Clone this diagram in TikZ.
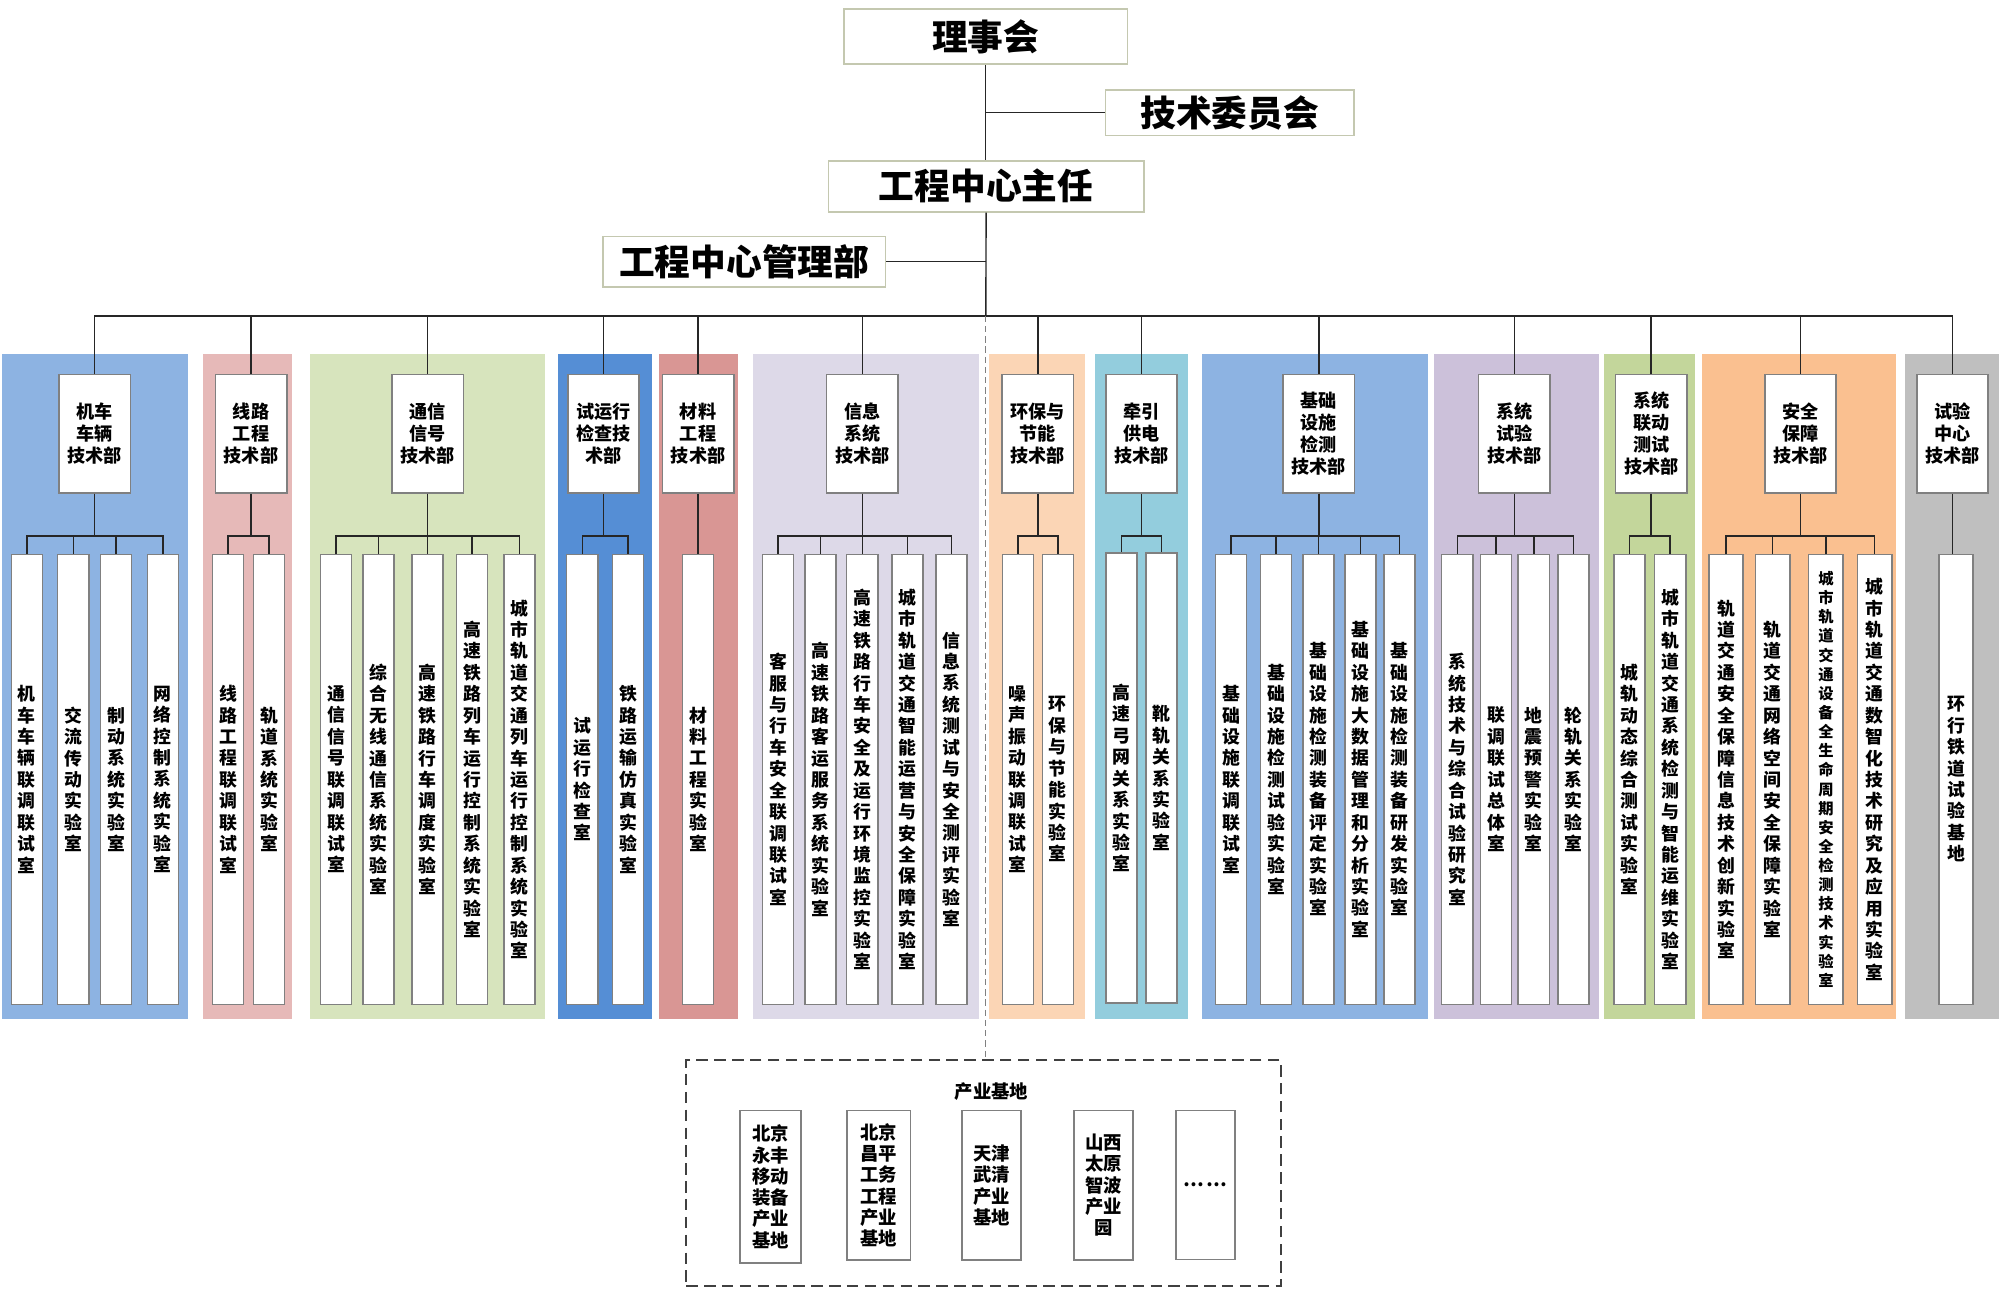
\documentclass[tikz,border=0pt]{standalone}
\usepackage{fontspec}
\setmainfont{Noto Sans CJK SC}
\usetikzlibrary{calc}

\definecolor{pcA}{RGB}{141,179,226}
\definecolor{pcB}{RGB}{230,185,184}
\definecolor{pcC}{RGB}{215,228,189}
\definecolor{pcD}{RGB}{85,142,213}
\definecolor{pcE}{RGB}{217,150,148}
\definecolor{pcF}{RGB}{221,217,232}
\definecolor{pcG}{RGB}{251,213,181}
\definecolor{pcH}{RGB}{147,205,221}
\definecolor{pcI}{RGB}{204,193,218}
\definecolor{pcJ}{RGB}{195,214,155}
\definecolor{pcK}{RGB}{250,192,144}
\definecolor{pcL}{RGB}{191,191,191}
\definecolor{boxline}{RGB}{128,128,128}
\definecolor{topline}{RGB}{196,200,176}
\definecolor{wirecol}{RGB}{38,38,38}

\newcommand\chiefont{\fontsize{14}{16}\selectfont\bfseries}
\newcommand\deptfont{\fontsize{7.1}{8.6}\selectfont\bfseries}
\newcommand\labfont{\fontsize{7}{8.4}\selectfont\bfseries}
\newcommand\smalllabfont{\fontsize{6}{7.5}\selectfont\bfseries}
\newcommand\parkfont{\fontsize{7.2}{8.35}\selectfont\bfseries}

% one character per line
\def\stackstop{\relax stackstop}
\newcommand\stackchars[1]{\edef\stacktmp{#1}\expandafter\stackfirst\stacktmp\stackstop}
\def\stackfirst#1{#1\stacknext}
\def\stacknext#1{\ifx\stackstop#1\else\\#1\expandafter\stacknext\fi}

\begin{document}
\begin{tikzpicture}[x=0.5pt,y=-0.5pt,
    chief/.style={draw=topline,fill=white,line width=0.7pt,font=\chiefont,inner sep=0pt},
    dept/.style={draw=boxline,fill=white,line width=0.6pt,font=\deptfont,align=center,
        minimum width=28pt,minimum height=46.5pt,inner sep=0pt},
    lab/.style={draw=boxline,fill=white,line width=0.6pt,font=\labfont,align=center,
        minimum width=12.2pt,minimum height=176.4pt,inner sep=0pt},
    widelab/.style={lab,minimum width=13.5pt},
    smalllab/.style={widelab,font=\smalllabfont},
    park/.style={draw=boxline,fill=white,line width=0.6pt,font=\parkfont,align=center,
        minimum width=23.3pt,minimum height=58.5pt,inner sep=0pt},
    wire/.style={draw=wirecol,line width=0.55pt}]
\useasboundingbox (0,0) rectangle (1568,1010);

% coloured panels
\foreach \xa/\xb/\pc in {1.4/147.6/pcA, 158.8/229/pcB, 243/427/pcC, 437.4/510.8/pcD,
    516.4/578.2/pcE, 590.3/767.2/pcF, 775/850.4/pcG, 858.5/931.3/pcH, 942.7/1119.7/pcA,
    1123.9/1253.3/pcI, 1257.7/1328.7/pcJ, 1334.7/1486.6/pcK, 1493.7/1567/pcL}
    \fill[\pc] (\xa,277.5) rectangle (\xb,799);

% top of the chart
\node[chief,minimum width=111.25pt,minimum height=21.7pt] (lishi) at (772.75,28.7) {理事会};
\node[chief,minimum width=97.4pt,minimum height=17.85pt] (jiwei) at (964.1,88.35) {技术委员会};
\node[chief,minimum width=123.6pt,minimum height=20pt] (zhuren) at (773.1,146) {工程中心主任};
\node[chief,minimum width=110.8pt,minimum height=19.85pt] (guanli) at (583.5,205.2) {工程中心管理部};
\coordinate (bus) at (772.9,247.6);
\draw[wire] (lishi.south) -- (lishi.south |- zhuren.north);
\draw[wire] (zhuren.south) -- (bus);
\draw[wire] (jiwei.west) -- (jiwei.west -| lishi.south);
\draw[wire] (guanli.east) -- (guanli.east -| zhuren.south);

% departments
\node[dept] (h1) at (74.2,340.15) {机车\\车辆\\技术部};
\node[dept] (h2) at (196.8,340.15) {线路\\工程\\技术部};
\node[dept] (h3) at (335.2,340.15) {通信\\信号\\技术部};
\node[dept] (h4) at (473.1,340.15) {试运行\\检查技\\术部};
\node[dept] (h5) at (547.3,340.15) {材料\\工程\\技术部};
\node[dept] (h6) at (676.1,340.15) {信息\\系统\\技术部};
\node[dept] (h7) at (813.7,340.15) {环保与\\节能\\技术部};
\node[dept] (h8) at (894.9,340.15) {牵引\\供电\\技术部};
\node[dept] (h9) at (1034,340.15) {基础\\设施\\检测\\技术部};
\node[dept] (h10) at (1187.3,340.15) {系统\\试验\\技术部};
\node[dept] (h11) at (1294.5,340.15) {系统\\联动\\测试\\技术部};
\node[dept] (h12) at (1411.6,340.15) {安全\\保障\\技术部};
\node[dept] (h13) at (1530.7,340.15) {试验\\中心\\技术部};
\foreach \p in {1,...,13}
    \draw[wire] (bus) -| (h\p.north);

% laboratories
\foreach \lx/\txt [count=\i] in {21.1/机车车辆联调联试室, 57.4/交流传动实验室,
    90.9/制动系统实验室, 127.7/网络控制系统实验室}
    {\node[lab] (l1-\i) at (\lx,611) {\stackchars{\txt}};
     \draw[wire] (h1.south) -- ++(0,33) -| (l1-\i.north);}
\foreach \lx/\txt [count=\i] in {178.7/线路工程联调联试室, 211/轨道系统实验室}
    {\node[lab] (l2-\i) at (\lx,611) {\stackchars{\txt}};
     \draw[wire] (h2.south) -- ++(0,33) -| (l2-\i.north);}
\foreach \lx/\txt [count=\i] in {263.4/通信信号联调联试室, 296.7/综合无线通信系统实验室,
    335/高速铁路行车调度实验室, 370/高速铁路列车运行控制系统实验室,
    407.2/城市轨道交通列车运行控制系统实验室}
    {\node[lab] (l3-\i) at (\lx,611) {\stackchars{\txt}};
     \draw[wire] (h3.south) -- ++(0,33) -| (l3-\i.north);}
\foreach \lx/\txt [count=\i] in {456.5/试运行检查室, 492.3/铁路运输仿真实验室}
    {\node[lab] (l4-\i) at (\lx,611) {\stackchars{\txt}};
     \draw[wire] (h4.south) -- ++(0,33) -| (l4-\i.north);}
\node[lab] (l5-1) at (547.3,611) {\stackchars{材料工程实验室}};
\draw[wire] (h5.south) -- (l5-1.north);
\foreach \lx/\txt [count=\i] in {610/客服与行车安全联调联试室, 643.2/高速铁路客运服务系统实验室,
    676/高速铁路行车安全及运行环境监控实验室, 711.5/城市轨道交通智能运营与安全保障实验室,
    746/信息系统测试与安全测评实验室}
    {\node[lab] (l6-\i) at (\lx,611) {\stackchars{\txt}};
     \draw[wire] (h6.south) -- ++(0,33) -| (l6-\i.north);}
\foreach \lx/\txt [count=\i] in {798/噪声振动联调联试室, 829.4/环保与节能实验室}
    {\node[lab] (l7-\i) at (\lx,611) {\stackchars{\txt}};
     \draw[wire] (h7.south) -- ++(0,33) -| (l7-\i.north);}
\foreach \lx/\txt [count=\i] in {879.2/高速弓网关系实验室, 910.5/靴轨关系实验室}
    {\node[lab] (l8-\i) at (\lx,610) {\stackchars{\txt}};
     \draw[wire] (h8.south) -- ++(0,33) -| (l8-\i.north);}
\foreach \lx/\txt [count=\i] in {965.2/基础设施联调联试室, 1000.5/基础设施检测试验实验室,
    1033.6/基础设施检测装备评定实验室, 1066.5/基础设施大数据管理和分析实验室,
    1097.2/基础设施检测装备研发实验室}
    {\node[lab] (l9-\i) at (\lx,611) {\stackchars{\txt}};
     \draw[wire] (h9.south) -- ++(0,33) -| (l9-\i.north);}
\foreach \lx/\txt [count=\i] in {1142.5/系统技术与综合试验研究室, 1172.8/联调联试总体室,
    1202.5/地震预警实验室, 1233.5/轮轨关系实验室}
    {\node[lab] (l10-\i) at (\lx,611) {\stackchars{\txt}};
     \draw[wire] (h10.south) -- ++(0,33) -| (l10-\i.north);}
\foreach \lx/\txt [count=\i] in {1277.5/城轨动态综合测试实验室,
    1309.4/城市轨道交通系统检测与智能运维实验室}
    {\node[lab] (l11-\i) at (\lx,611) {\stackchars{\txt}};
     \draw[wire] (h11.south) -- ++(0,33) -| (l11-\i.north);}
\foreach \lx/\txt/\ls [count=\i] in {1353.2/轨道交通安全保障信息技术创新实验室/widelab,
    1389.7/轨道交通网络空间安全保障实验室/widelab,
    1431.5/城市轨道交通设备全生命周期安全检测技术实验室/smalllab,
    1469.6/城市轨道交通数智化技术研究及应用实验室/widelab}
    {\node[\ls] (l12-\i) at (\lx,611) {\stackchars{\txt}};
     \draw[wire] (h12.south) -- ++(0,33) -| (l12-\i.north);}
\node[widelab] (l13-1) at (1533.5,611) {\stackchars{环行铁道试验基地}};
\draw[wire] (h13.south) -- (h13.south |- l13-1.north);

% industrial bases
\node[draw={rgb,255:red,64;green,64;blue,64},line width=0.75pt,dash pattern=on 4.5pt off 2.5pt,
    minimum width=233pt,minimum height=88.5pt,inner sep=0pt] (base) at (771,919.5) {};
\draw[draw=gray,line width=0.5pt,dash pattern=on 2.5pt off 1.5pt] (bus) -- (bus |- base.north);
\node[font=\parkfont] (baselabel) at (777.4,855.7) {产业基地};
\node[park,minimum width=23.9pt,minimum height=59.6pt] (b1) at (604.1,930.4) {北京\\永丰\\移动\\装备\\产业\\基地};
\node[park,minimum width=24.9pt] (b2) at (688.9,929.3) {北京\\昌平\\工务\\工程\\产业\\基地};
\node[park] (b3) at (777.3,929.3) {天津\\武清\\产业\\基地};
\node[park] (b4) at (865.1,929.3) {山西\\太原\\智波\\产业\\园};
\node[park,minimum width=23.1pt] (b5) at (945,929) {…\,…};
\end{tikzpicture}
\end{document}
